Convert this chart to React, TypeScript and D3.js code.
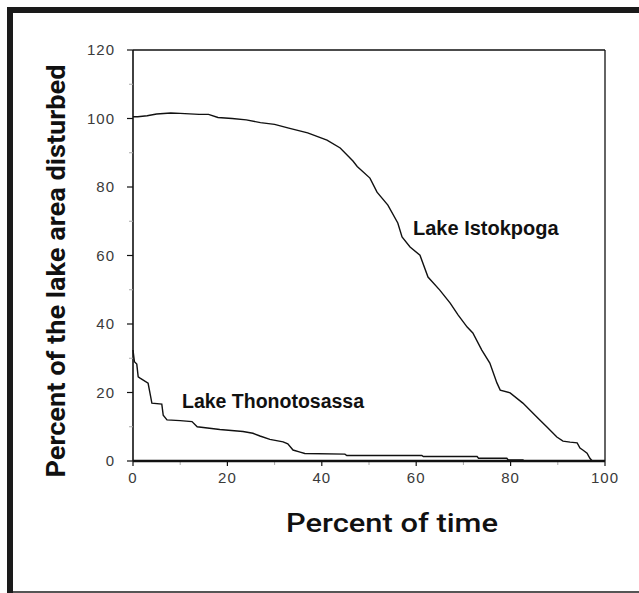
import React from "react";
import * as d3 from "d3";

const istokX = [0, 1, 3, 5, 8, 10, 14, 16, 18, 21, 24, 27, 30, 33, 37, 41.1, 43.9, 46.6, 47.5, 50.2, 51.7, 54, 56.1, 57, 58.7, 60.8, 62.5, 65, 67.2, 68.9, 70.8, 72, 73.9, 75.6, 77.1, 77.8, 79.9, 82.6, 85.6, 87.7, 89.8, 91.1, 92.6, 94.1, 94.7, 95.3, 96.2, 96.8, 97.3, 100];
const istokY = [100.5, 100.5, 100.8, 101.3, 101.6, 101.5, 101.2, 101.2, 100.3, 100.0, 99.6, 98.8, 98.3, 97.2, 95.8, 93.7, 91.4, 87.6, 86, 82.6, 78.5, 74.7, 69.5, 65.4, 62.5, 60.1, 53.7, 49.9, 46.1, 42.6, 39.1, 37.4, 32.4, 28.6, 22.8, 20.7, 19.9, 16.9, 12.8, 9.9, 7.0, 5.8, 5.5, 5.3, 3.8, 3.2, 2.3, 0.8, 0, 0];

const thonoX = [0, 0.3, 0.8, 1.1, 1.5, 3.2, 3.6, 4, 6.1, 6.4, 7.2, 10, 12.5, 13.6, 18.4, 23.3, 25.4, 26.9, 29, 31.8, 32.8, 33.9, 35.4, 36.4, 44.9, 45.3, 61.2, 61.5, 72.9, 73.2, 79.2, 79.5, 82.6, 83, 100];
const thonoY = [32.4, 29, 28.3, 24.6, 24.2, 22.7, 19.8, 16.9, 16.6, 13.4, 12, 11.8, 11.5, 10, 9.2, 8.6, 8.1, 7.3, 6.3, 5.6, 5.0, 3.2, 2.6, 2.2, 2.0, 1.6, 1.6, 1.3, 1.3, 0.8, 0.8, 0.3, 0.3, 0, 0];

const xTicks = [0, 20, 40, 60, 80, 100];
const xMinor = [10, 30, 50, 70, 90];
const yTicks = [0, 20, 40, 60, 80, 100, 120];
const yMinor = [10, 30, 50, 70, 90, 110];

const xTitle = "Percent of time";
const yTitle = "Percent of the lake area disturbed";
const labelIstok = "Lake Istokpoga";
const labelThono = "Lake Thonotosassa";

export default function App() {
  const W = 639, H = 593;
  const x = d3.scaleLinear().domain([0, 100]).range([133, 605]);
  const y = d3.scaleLinear().domain([0, 120]).range([461, 50]);
  const line = d3.line<[number, number]>().x(d => x(d[0])).y(d => y(d[1])).curve(d3.curveLinear);
  const istok = line(istokX.map((v, i) => [v, istokY[i]] as [number, number])) || "";
  const thono = line(thonoX.map((v, i) => [v, thonoY[i]] as [number, number])) || "";
  const tickFont = { fontFamily: "Arial, 'Liberation Sans', sans-serif", fontSize: 15, fill: "#3a3a3a", letterSpacing: 1 };
  return (
    <svg width={W} height={H} style={{ position: "absolute", left: 0, top: 0, background: "#fff" }}>
      <rect x={0} y={0} width={W} height={H} fill="#fff" />
      {/* frame */}
      <rect x={7} y={7} width={W - 7} height={6} fill="#1a1a1a" />
      <rect x={7} y={7} width={6} height={H - 7} fill="#1a1a1a" />
      <rect x={13} y={591} width={W - 13} height={2} fill="#555" />
      {/* plot box */}
      <line x1={x(0)} x2={x(100)} y1={y(120)} y2={y(120)} stroke="#111" strokeWidth={1.3} />
      <line x1={x(100)} x2={x(100)} y1={y(120)} y2={y(0)} stroke="#111" strokeWidth={1.3} />
      <line x1={x(0)} x2={x(0)} y1={y(120)} y2={y(0)} stroke="#111" strokeWidth={1.6} />
      {/* minor ticks */}
      {yMinor.map(t => (
        <line key={"ym" + t} x1={x(0) - 4} x2={x(0)} y1={y(t)} y2={y(t)} stroke="#aaa" strokeWidth={1} />
      ))}
      {xMinor.map(t => (
        <line key={"xm" + t} x1={x(t)} x2={x(t)} y1={y(0)} y2={y(0) + 4} stroke="#aaa" strokeWidth={1} />
      ))}
      {/* major ticks */}
      {yTicks.map(t => (
        <g key={"y" + t}>
          <line x1={x(0) - 6} x2={x(0)} y1={y(t)} y2={y(t)} stroke="#111" strokeWidth={1.2} />
          <text x={x(0) - 18} y={y(t)} dy="0.36em" textAnchor="end" style={tickFont}>{t}</text>
        </g>
      ))}
      {xTicks.map(t => (
        <g key={"x" + t}>
          <line x1={x(t)} x2={x(t)} y1={y(0)} y2={y(0) + 5} stroke="#111" strokeWidth={1.2} />
          <text x={x(t)} y={y(0) + 22} textAnchor="middle" style={tickFont}>{t}</text>
        </g>
      ))}
      {/* curves */}
      <path d={istok} fill="none" stroke="#111" strokeWidth={1.4} />
      <path d={thono} fill="none" stroke="#111" strokeWidth={1.4} />
      <line x1={x(0)} x2={x(100)} y1={y(0)} y2={y(0)} stroke="#111" strokeWidth={2.6} />
      {/* labels */}
      <text x={413} y={235} style={{ fontFamily: "Arial, 'Liberation Sans', sans-serif", fontWeight: 700, fontSize: 20, fill: "#111" }}>{labelIstok}</text>
      <text x={182} y={408} style={{ fontFamily: "Arial, 'Liberation Sans', sans-serif", fontWeight: 700, fontSize: 19.5, fill: "#111" }}>{labelThono}</text>
      {/* titles */}
      <text x={392} y={532} textAnchor="middle" textLength={212} lengthAdjust="spacingAndGlyphs" style={{ fontFamily: "Roboto, sans-serif", fontWeight: 500, fontSize: 26, fill: "#111" }}>{xTitle}</text>
      <text transform="translate(65,271) rotate(-90)" textAnchor="middle" textLength={413} lengthAdjust="spacingAndGlyphs" style={{ fontFamily: "Roboto, sans-serif", fontWeight: 700, fontSize: 26, fill: "#111" }}>{yTitle}</text>
    </svg>
  );
}
